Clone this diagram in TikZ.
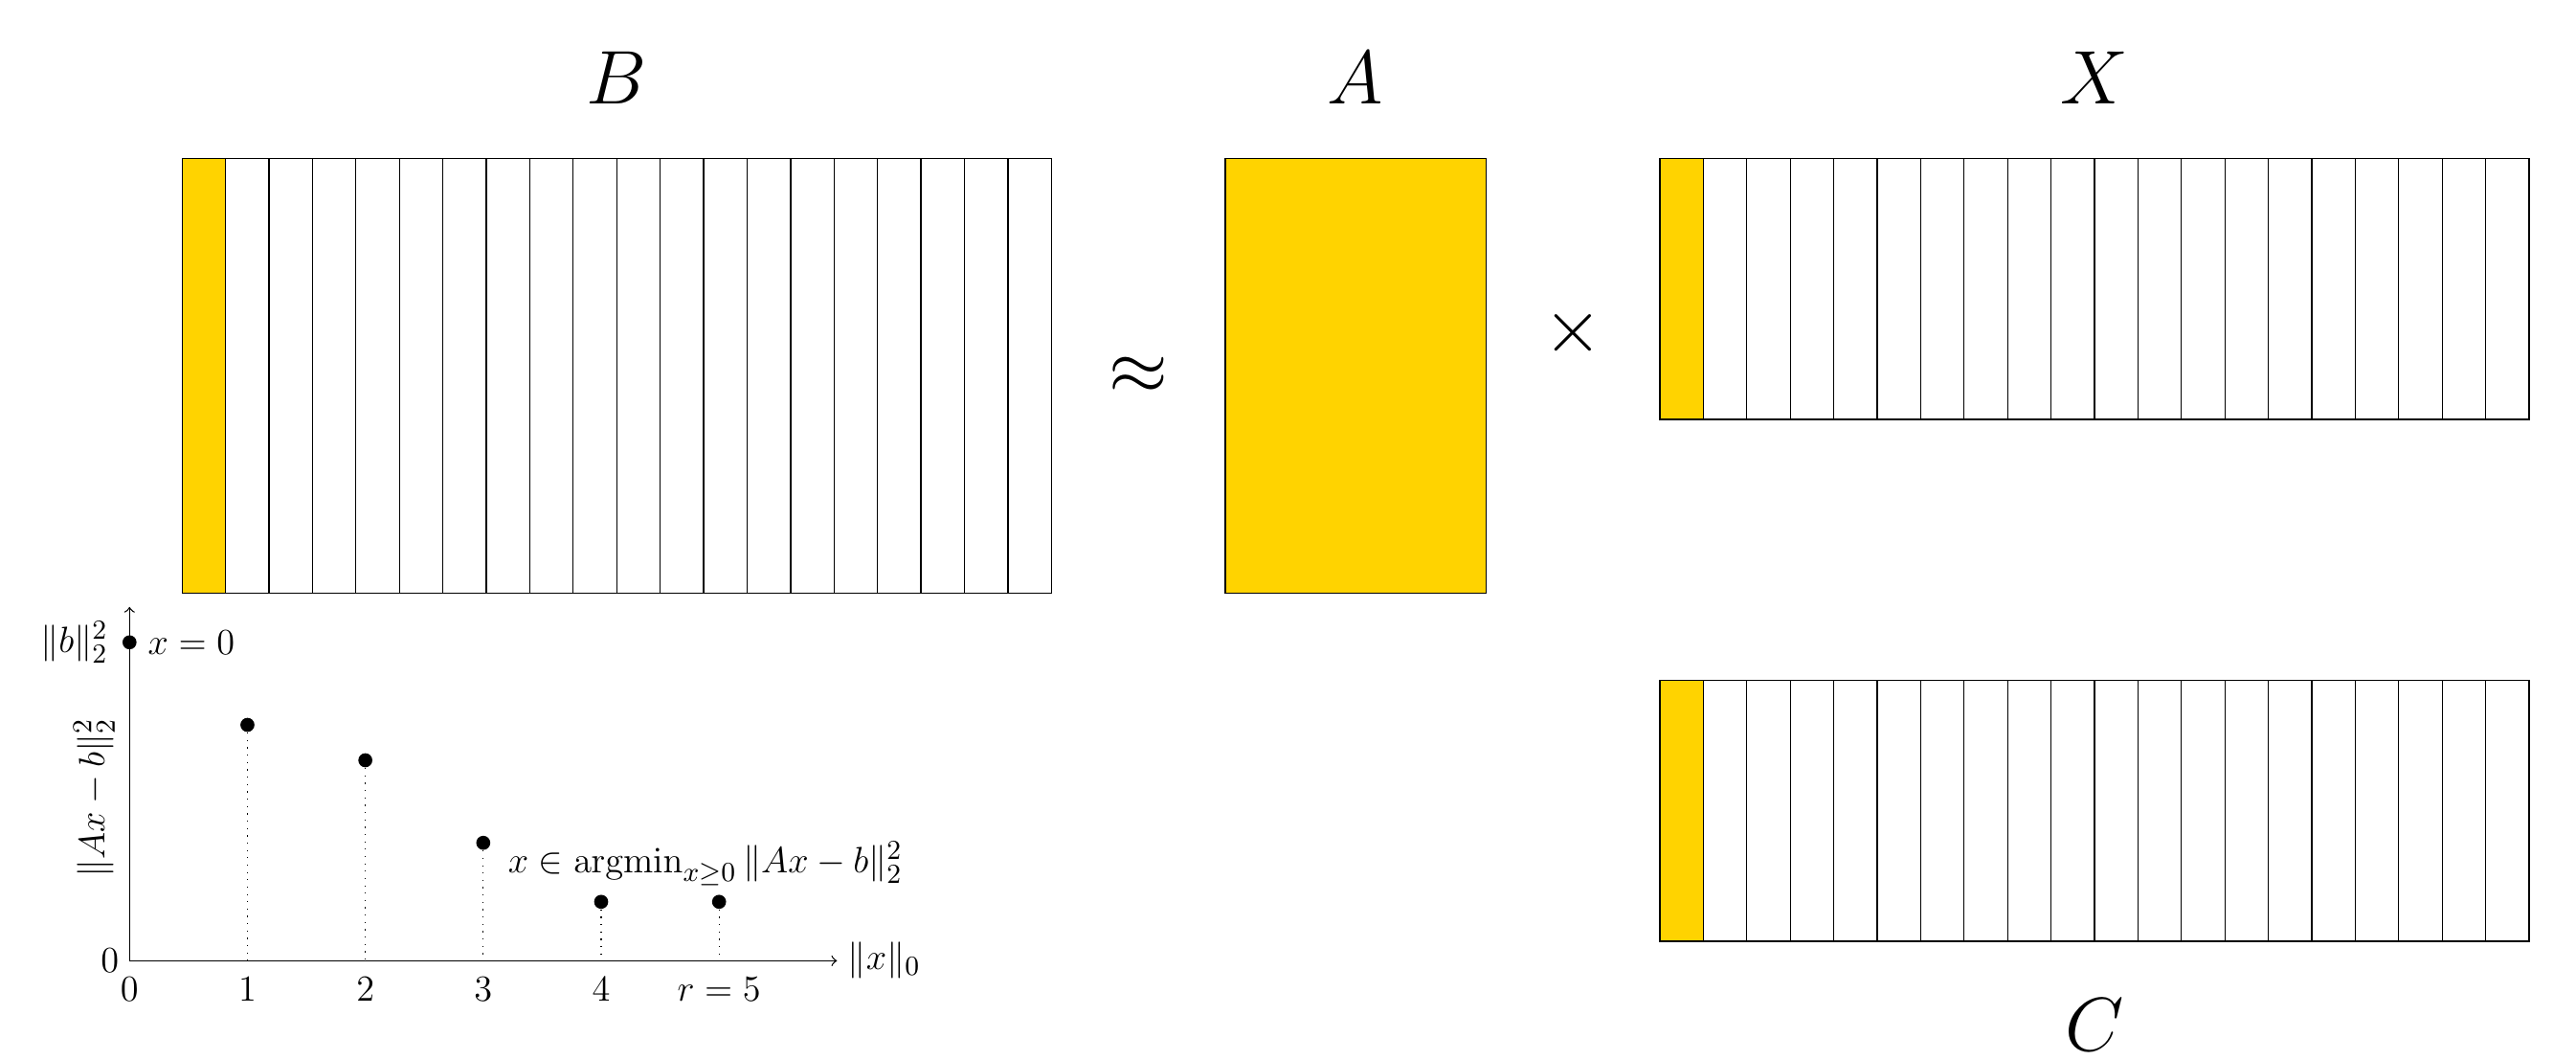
\documentclass[tikz,border=0pt]{standalone}
\usepackage{xcolor}
\usepackage{amsmath}
\usepackage{tikz}
\usetikzlibrary{positioning}

\begin{document}
\begin{tikzpicture}[x=0.5cm,y=0.5cm]
  \definecolor{atom}{RGB}{255,211,0}
  \tikzset{big/.style={font=\fontsize{29}{34}\selectfont},
    small/.style={font=\fontsize{12.6}{15}\selectfont},
    dot/.style={circle,fill,inner sep=0pt,minimum size=4.6pt}}
  \useasboundingbox (-4.19,-10.73) rectangle (55.08,13.65);
  % matrices
  \fill[atom] (0,0) rectangle (1,10);
  \fill[atom] (24,0) rectangle (30,10);
  \fill[atom] (34,4) rectangle (35,10);
  \fill[atom] (34,-8) rectangle (35,-2);
  \draw (24,0) rectangle (30,10);
  \foreach \i in {0,...,19} {
    \draw (\i,0) rectangle (\i+1,10);
    \draw (34+\i,4) rectangle (35+\i,10);
    \draw (34+\i,-8) rectangle (35+\i,-2);
  }
  % names and operators
  \foreach \n/\x/\y/\t in {mB/10/11.27/B, mA/27/11.27/A, mX/44/11.27/X, mC/44/-10.52/C}
    \node[big,anchor=base] (\n) at (\x,\y) {$\t$};
  \node[big] (approx) at (22,5) {$\approx$};
  \node[big] (times) at (32,6) {$\times$};
  % residual vs sparsity
  \begin{scope}[shift={(-1.21,-8.45)},x=1.3565cm,y=1.3565cm,small]
    \coordinate (o) at (0,0);
    \coordinate (xend) at (6,0);
    \coordinate (yend) at (0,3);
    \draw[->] (o) -- (xend);
    \draw[->] (o) -- (yend);
    \node[right] (xlab) at (xend) {$\|x\|_0$};
    \node[left] (zero) at (o) {$0$};
    \node[rotate=90] (ylab) at (-0.3,1.38) {$\|Ax-b\|_2^2$};
    \foreach \i/\t in {0/0, 1/1, 2/2, 3/3, 4/4, 5/{r=5}} {
      \coordinate (t\i) at (\i,0);
      \node[below=2pt] (k\i) at (t\i) {$\t$};
    }
    \foreach \i/\v in {0/2.7, 1/2, 2/1.7, 3/1, 4/0.5, 5/0.5}
      \node[dot] (p\i) at (\i,\v) {};
    \foreach \i in {1,...,5} \draw[dotted] (p\i) -- (t\i);
    \node[left=1pt of p0] (bnorm) {$\|b\|_2^2$};
    \node[right=0pt of p0] (xzero) {$x=0$};
    \node[anchor=west] (nnls) at (3.12,0.82) {$x\in\operatorname{argmin}_{x\geq 0}\|Ax-b\|_2^2$};
  \end{scope}
\end{tikzpicture}
\end{document}
